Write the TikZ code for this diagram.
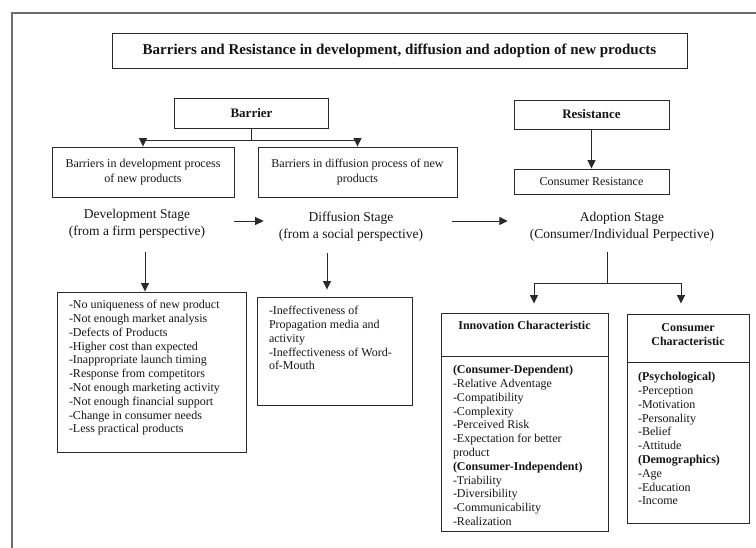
\documentclass[tikz,border=0pt]{standalone}
\usepackage{fontspec}
\setmainfont{Liberation Serif}
\usetikzlibrary{arrows.meta}
\definecolor{ink}{HTML}{151515}
\definecolor{edge}{HTML}{2A2A2A}
\definecolor{framegray}{HTML}{6E6E6E}
% top-aligned text block for the list boxes: width, height, contents
\newcommand\listtext[3]{\begin{minipage}[t][#2][t]{#1}\fontsize{12}{13.8}\selectfont\strut#3\end{minipage}}
\begin{document}
\begin{tikzpicture}[x=1pt,y=-1pt,
  box/.style={draw=edge, line width=0.9pt, inner sep=0pt, text=ink, align=center},
  headbox/.style={box, font=\fontsize{13}{15}\selectfont\bfseries},
  plainbox/.style={box, font=\fontsize{12}{15}\selectfont},
  listbox/.style={draw=edge, line width=0.9pt, inner xsep=12pt, text=ink},
  stage/.style={inner sep=0pt, text=ink, align=center, font=\fontsize{13.5}{17}\selectfont},
  arr/.style={draw=edge, line width=0.9pt, -{Triangle[length=8.5pt,width=8pt]}},
  link/.style={draw=edge, line width=0.9pt}
]
\useasboundingbox (0,0) rectangle (756,548);

% outer frame
\draw[framegray, line width=1.5pt] (12,548) -- (12,13) -- (756,13);

% title
\node[box, minimum width=575pt, minimum height=35pt, font=\fontsize{15}{17}\selectfont\bfseries]
  (title) at (399.5,50.5) {Barriers and Resistance in development, diffusion and adoption of new products};

% barrier branch
\node[headbox, minimum width=154pt, minimum height=30pt] (barrier) at (251.5,113) {Barrier};
\node[plainbox, minimum width=182pt, minimum height=50pt] (devbar) at (143,172)
  {Barriers in development process\\of new products};
\node[plainbox, minimum width=199pt, minimum height=50pt] (difbar) at (357.5,172)
  {Barriers in diffusion process of new\\products};

% resistance branch
\node[headbox, minimum width=155pt, minimum height=29pt] (resist) at (591.5,114.5) {Resistance};
\node[plainbox, minimum width=155pt, minimum height=25pt] (consres) at (591.5,181.5) {Consumer Resistance};

% stages
\node[stage] (devstage) at (137,223.5) {Development Stage\\(from a firm perspective)};
\node[stage] (difstage) at (351,227) {Diffusion Stage\\(from a social perspective)};
\node[stage] (adopstage) at (622,227) {Adoption Stage\\(Consumer/Individual Perpective)};

% development barriers list
\node[listbox, inner ysep=7pt] (devlist) at (151.5,372)
  {\listtext{165pt}{146pt}{-No uniqueness of new product\\-Not enough market analysis\\-Defects of Products\\-Higher cost than expected\\-Inappropriate launch timing\\-Response from competitors\\-Not enough marketing activity\\-Not enough financial support\\-Change in consumer needs\\-Less practical products}};

% diffusion barriers list
\node[listbox, inner ysep=8pt] (diflist) at (334.5,351)
  {\listtext{131pt}{92pt}{-Ineffectiveness of\\Propagation media and\\activity\\-Ineffectiveness of Word-\\of-Mouth}};

% innovation characteristic
\node[listbox, inner ysep=7pt] (innohead) at (524.5,334.5)
  {\listtext{143pt}{29pt}{\centering\bfseries Innovation Characteristic\par}};
\node[listbox, inner ysep=8pt] (innobody) at (524.5,443.5)
  {\listtext{143pt}{159pt}{{\bfseries (Consumer-Dependent)}\\-Relative Adventage\\-Compatibility\\-Complexity\\-Perceived Risk\\-Expectation for better\\product\\{\bfseries (Consumer-Independent)}\\-Triability\\-Diversibility\\-Communicability\\-Realization}};

% consumer characteristic
\node[listbox, inner xsep=11pt, inner ysep=8pt] (conshead) at (688,338)
  {\listtext{100pt}{32pt}{\centering\bfseries Consumer\\Characteristic\par}};
\node[listbox, inner xsep=11pt, inner ysep=9pt] (consbody) at (688,442.5)
  {\listtext{100pt}{143pt}{{\bfseries (Psychological)}\\-Perception\\-Motivation\\-Personality\\-Belief\\-Attitude\\{\bfseries (Demographics)}\\-Age\\-Education\\-Income}};

% connectors: barrier split
\path (barrier.south) ++(0,12) coordinate (bsplit);
\draw[link] (barrier.south) -- (bsplit);
\draw[arr] (bsplit) -| (devbar.north);
\draw[arr] (bsplit) -| (difbar.north);

% resistance
\draw[arr] (resist) -- (consres);

% stage sequence
\draw[arr, shorten <=29pt, shorten >=15pt] ([yshift=2.5pt]devstage.east) -- ([yshift=2.5pt]devstage.east -| difstage.west);
\draw[arr, shorten <=29pt, shorten >=22pt] ([yshift=6pt]difstage.east) -- ([yshift=6pt]difstage.east -| adopstage.west);

% stage drops
\coordinate (devdrop) at (145,252);
\draw[arr] (devdrop) -- (devdrop |- devlist.north);
\coordinate (difdrop) at (327,253);
\draw[arr, shorten >=7pt] (difdrop) -- (difdrop |- diflist.north);
\coordinate (adopdrop) at (607,252);
\coordinate (adopsplit) at (607,283);
\draw[link] (adopdrop) -- (adopsplit);
\draw[arr, shorten >=9pt] (adopsplit) -| ([xshift=9.5pt]innohead.north);
\draw[arr, shorten >=10pt] (adopsplit) -| ([xshift=-7pt]conshead.north);
\end{tikzpicture}
\end{document}
